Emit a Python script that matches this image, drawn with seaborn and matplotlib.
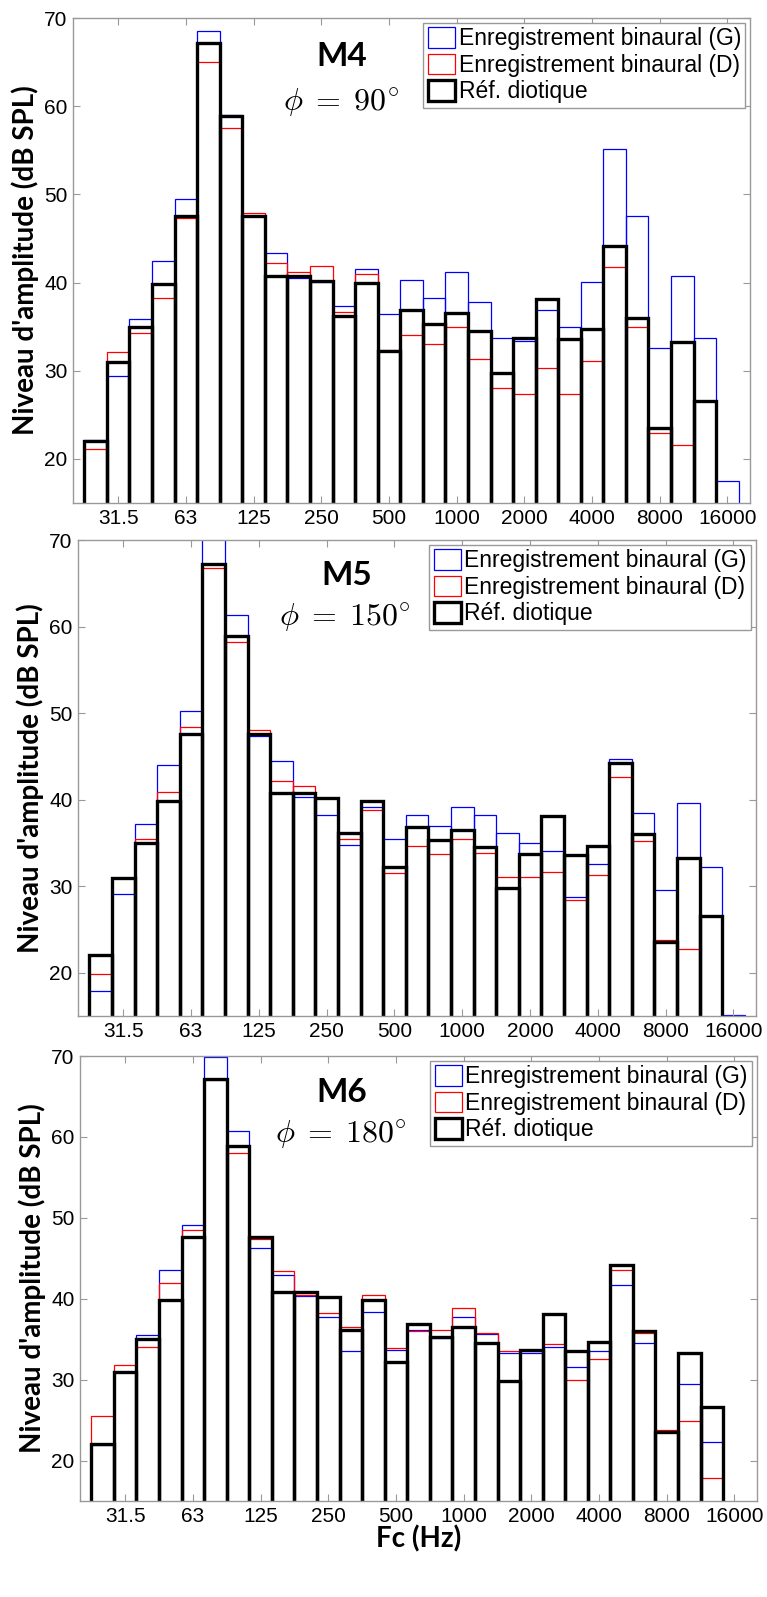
import numpy as np
import pandas as pd
import matplotlib
matplotlib.use("Agg")
import matplotlib.pyplot as plt
from matplotlib.patches import Patch
import seaborn as sns

# third-octave centre frequencies (Hz)
bands = ["25", "31.5", "40", "50", "63", "80", "100", "125", "160", "200", "250", "315",
         "400", "500", "630", "800", "1000", "1250", "1600", "2000", "2500", "3150",
         "4000", "5000", "6300", "8000", "10000", "12500", "16000"]
tick_bands = ["31.5", "63", "125", "250", "500", "1000", "2000", "4000", "8000", "16000"]

# diotic reference, identical in the three panels
ref = [22.0, 31.0, 35.0, 39.8, 47.6, 67.2, 58.9, 47.6, 40.8, 40.8, 40.2, 36.2, 39.9, 32.2,
       36.9, 35.3, 36.5, 34.5, 29.8, 33.7, 38.1, 33.6, 34.7, 44.2, 36.0, 23.5, 33.3, 26.6, np.nan]

# M4
m4_left = [22.1, 29.4, 35.9, 42.4, 49.5, 68.5, 59.0, 47.6, 43.4, 40.5, 40.1, 37.3, 41.5, 36.4,
           40.3, 38.3, 41.2, 37.8, 33.7, 33.4, 36.9, 35.0, 40.1, 55.2, 47.6, 32.6, 40.8, 33.7, 17.5]
m4_right = [21.1, 32.1, 34.3, 38.2, 47.3, 65.0, 57.5, 47.9, 42.2, 41.2, 41.9, 36.7, 41.0, 32.4,
            34.1, 33.0, 35.0, 31.3, 28.0, 27.4, 30.3, 27.4, 31.1, 41.8, 35.0, 23.0, 21.6, np.nan, np.nan]

# M5
m5_left = [17.9, 29.1, 37.2, 44.0, 50.3, 71.0, 61.4, 47.4, 44.5, 40.3, 38.2, 34.8, 39.2, 35.4,
           38.2, 37.0, 39.2, 38.2, 36.1, 35.0, 34.1, 28.8, 32.6, 44.7, 38.5, 29.6, 39.6, 32.2, 15.15]
m5_right = [19.8, 31.0, 35.4, 40.9, 48.4, 66.8, 58.2, 48.0, 42.2, 41.6, 40.2, 35.4, 38.8, 31.5,
            34.7, 33.7, 35.4, 33.8, 31.1, 31.1, 31.7, 28.4, 31.3, 42.6, 35.2, 23.8, 22.7, np.nan, np.nan]

# M6
m6_left = [21.9, 30.9, 35.5, 43.6, 49.1, 69.9, 60.8, 46.3, 43.0, 40.3, 37.7, 33.5, 38.4, 33.7,
           36.1, 35.2, 37.7, 35.6, 33.3, 33.3, 34.1, 31.6, 33.5, 41.7, 34.5, 23.7, 29.5, 22.3, np.nan]
m6_right = [25.5, 31.8, 34.1, 42.0, 48.5, 67.0, 58.0, 47.4, 43.4, 40.5, 38.2, 36.5, 40.5, 33.9,
            36.0, 36.1, 38.9, 35.8, 33.6, 33.5, 34.4, 30.0, 32.6, 43.6, 35.8, 23.8, 24.9, 17.9, np.nan]

panels = [
    ("M4", r"$\phi\;=\;90^{\circ}$", m4_left, m4_right),
    ("M5", r"$\phi\;=\;150^{\circ}$", m5_left, m5_right),
    ("M6", r"$\phi\;=\;180^{\circ}$", m6_left, m6_right),
]

# axes boxes in figure fraction (left, bottom, width, height)
boxes = [(0.0952, 0.685, 0.8827, 0.3037),
         (0.1017, 0.3638, 0.884, 0.298),
         (0.1043, 0.0601, 0.8827, 0.2786)]
title_pos = [((0.397, 0.92), (0.396, 0.825)),
             ((0.397, 0.926), (0.393, 0.836)),
             ((0.387, 0.919), (0.385, 0.822))]

plt.rcParams["font.family"] = ["Liberation Sans", "DejaVu Sans"]
plt.rcParams["mathtext.fontset"] = "cm"

fig = plt.figure(figsize=(7.67, 15.97), dpi=100)
frame_col = "#999999"
bold_font = ["Lato", "DejaVu Sans"]

for i, (name, phi, left, right) in enumerate(panels):
    ax = fig.add_axes(boxes[i])
    for vals, col, lw in [(left, "blue", 0.9), (right, "red", 0.9), (ref, "black", 2.4)]:
        df = pd.DataFrame({"band": bands, "level": vals}).dropna()
        sns.barplot(data=df, x="band", y="level", order=bands, color=col, fill=False,
                    width=1.0, linewidth=lw, errorbar=None, ax=ax)

    ax.set_xlim(-1, len(bands))
    ax.set_ylim(15, 70)
    ax.set_yticks([20, 30, 40, 50, 60, 70])
    ax.set_xticks([bands.index(b) for b in tick_bands])
    ax.set_xticklabels(tick_bands)
    ax.tick_params(direction="in", top=True, right=True, length=5, width=0.8,
                   color=frame_col, labelsize=15, pad=4)
    for sp in ax.spines.values():
        sp.set_color(frame_col)
        sp.set_linewidth(1.0)

    ax.set_ylabel("Niveau d'amplitude (dB SPL)", fontsize=20, fontweight="bold", family=bold_font)
    ax.yaxis.set_label_coords(-0.07, 0.5)
    ax.yaxis.label.set_va("center")
    if i == 2:
        ax.set_xlabel("Fc (Hz)", fontsize=20, fontweight="bold", family=bold_font, labelpad=0)
    else:
        ax.set_xlabel("")

    (tx, ty), (px, py) = title_pos[i]
    ax.text(tx, ty, name, transform=ax.transAxes, ha="center", va="center",
            fontsize=24, fontweight="bold", family=bold_font)
    ax.text(px, py, phi, transform=ax.transAxes, ha="center", va="center", fontsize=23)

    handles = [Patch(facecolor="none", edgecolor="blue", linewidth=0.9),
               Patch(facecolor="none", edgecolor="red", linewidth=0.9),
               Patch(facecolor="none", edgecolor="black", linewidth=2.4)]
    leg = ax.legend(handles, ["Enregistrement binaural (G)", "Enregistrement binaural (D)",
                              "Réf. diotique"],
                    loc="upper right", fontsize=16.5, fancybox=False, framealpha=1,
                    edgecolor=frame_col, handlelength=1.2, handleheight=1.0,
                    handletextpad=0.15, labelspacing=0.15, borderpad=0.2,
                    borderaxespad=0.2)
    leg.get_frame().set_linewidth(1.0)

fig.savefig("out.png", dpi=100)
